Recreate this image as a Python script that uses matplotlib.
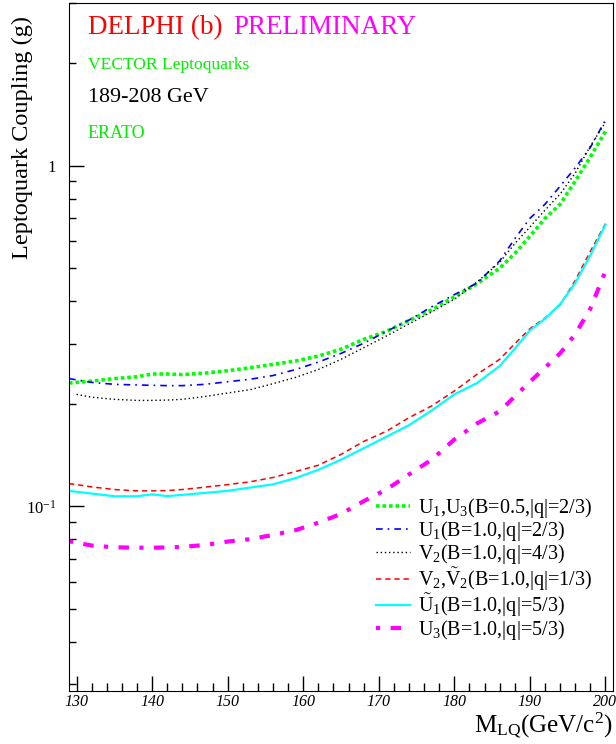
import numpy as np
import matplotlib
matplotlib.use('Agg')
import matplotlib.pyplot as plt
from matplotlib.ticker import FixedLocator, MultipleLocator, NullFormatter, FixedFormatter

plt.rcParams['font.family'] = ['Liberation Serif', 'DejaVu Serif']
plt.rcParams['mathtext.fontset'] = 'custom'
plt.rcParams['mathtext.rm'] = 'Liberation Serif'
plt.rcParams['mathtext.it'] = 'Liberation Serif:italic'

# leptoquark mass (GeV/c^2) and coupling limits
mass = [129, 130, 132, 135, 138, 140, 142, 144, 147, 150, 153, 156, 159, 162, 165,
        168, 171, 174, 177, 180, 183, 186, 188, 190, 192, 194, 196, 198, 200]

u1u3_b05 = [0.230, 0.231, 0.233, 0.237, 0.240, 0.2445, 0.2445, 0.2435, 0.246, 0.250, 0.255,
            0.261, 0.267, 0.276, 0.289, 0.309, 0.326, 0.351, 0.377, 0.412, 0.450,
            0.500, 0.552, 0.620, 0.700, 0.770, 0.900, 1.060, 1.26]
u1_b1 = [0.237, 0.235, 0.231, 0.228, 0.227, 0.2265, 0.226, 0.226, 0.228, 0.232, 0.236,
         0.242, 0.252, 0.265, 0.281, 0.301, 0.326, 0.352, 0.385, 0.418, 0.452,
         0.525, 0.610, 0.700, 0.770, 0.870, 0.985, 1.13, 1.36]
v2_q43 = [np.nan, 0.213, 0.209, 0.206, 0.2045, 0.2045, 0.205, 0.206, 0.210, 0.215, 0.220,
          0.229, 0.239, 0.252, 0.270, 0.292, 0.316, 0.343, 0.372, 0.405, 0.455,
          0.520, 0.590, 0.660, 0.740, 0.825, 0.950, 1.14, 1.34]
v2_q13 = [0.1165, 0.1158, 0.114, 0.112, 0.111, 0.111, 0.1112, 0.112, 0.1138, 0.1158, 0.118,
          0.1215, 0.1265, 0.132, 0.142, 0.155, 0.166, 0.182, 0.197, 0.218, 0.244,
          0.270, 0.300, 0.332, 0.357, 0.390, 0.460, 0.560, 0.675]
u1t_q53 = [0.111, 0.1103, 0.109, 0.107, 0.107, 0.1084, 0.1071, 0.108, 0.1095, 0.111, 0.1135,
           0.116, 0.121, 0.128, 0.137, 0.148, 0.160, 0.173, 0.191, 0.213, 0.230,
           0.258, 0.290, 0.328, 0.355, 0.392, 0.452, 0.545, 0.67]
u3_q53 = [0.079, 0.0782, 0.0767, 0.0758, 0.0756, 0.0756, 0.0757, 0.076, 0.0770, 0.0788, 0.0801,
          0.0824, 0.0851, 0.0895, 0.0950, 0.1035, 0.112, 0.124, 0.137, 0.157, 0.175,
          0.190, 0.210, 0.232, 0.255, 0.281, 0.320, 0.380, 0.490]

labels = [r'U$_1$,U$_3$(B=0.5,|q|=2/3)',
          r'U$_1$(B=1.0,|q|=2/3)',
          r'V$_2$(B=1.0,|q|=4/3)',
          r'V$_2$,$\tilde{\mathrm{V}}_2$(B=1.0,|q|=1/3)',
          r'$\tilde{\mathrm{U}}_1$(B=1.0,|q|=5/3)',
          r'U$_3$(B=1.0,|q|=5/3)']

fig = plt.figure(figsize=(6.16, 7.44), dpi=100)
ax = fig.add_axes([69/616, 53/744, 544/616, 688/744])

ax.plot(mass, u1u3_b05, color='#00ff00', lw=2.6, ls=(0, (1, 0.8)), label=labels[0])
ax.plot(mass, u1_b1, color='blue', lw=1.2, ls=(0, (4, 3, 1, 3)), label=labels[1])
ax.plot(mass, v2_q43, color='black', lw=1.0, ls=(0, (1, 2)), label=labels[2])
ax.plot(mass, v2_q13, color='red', lw=1.1, ls=(0, (3.5, 2.5)), label=labels[3])
ax.plot(mass, u1t_q53, color='cyan', lw=1.6, ls='-', label=labels[4])
ax.plot(mass, u3_q53, color='magenta', lw=3.0, ls=(0, (1, 2.5, 2.5, 2.5)), label=labels[5])

ax.set_yscale('log')
ax.set_xlim(129, 201)
ax.set_ylim(0.0287, 3.0)

ax.xaxis.set_major_locator(MultipleLocator(10))
ax.xaxis.set_minor_locator(MultipleLocator(2))
ax.yaxis.set_major_locator(FixedLocator([0.1, 1]))
ax.yaxis.set_major_formatter(FixedFormatter([r'$\mathit{10^{-1}}$', r'$\mathit{1}$']))
ax.yaxis.set_minor_formatter(NullFormatter())
ax.tick_params(which='both', direction='in', top=False, right=False)
ax.tick_params(axis='x', which='major', length=11, width=1, pad=2, labelsize=11.5)
ax.tick_params(axis='x', which='minor', length=6, width=1)
ax.tick_params(axis='y', which='major', length=11, width=1, pad=9, labelsize=12)
ax.tick_params(axis='y', which='minor', length=5, width=1)
for lab in ax.get_xticklabels():
    lab.set_fontstyle('italic')

ax.set_ylabel('Leptoquark Coupling (g)', fontsize=17.5)
ax.yaxis.set_label_coords(-0.066, 0.804)
ax.set_xlabel(r'M$_{\mathrm{LQ}}$(GeV/c$^2$)', fontsize=18, ha='right')
ax.xaxis.set_label_coords(1.0, -0.029)
ax.xaxis.label.set_va('top')

fig.text(88/616, 1 - 28/744, 'DELPHI (b)', color='red', fontsize=19.5, va='center')
fig.text(233/616, 1 - 28/744, 'PRELIMINARY', color='magenta', fontsize=19.5, va='center')
fig.text(88/616, 1 - 65/744, 'VECTOR Leptoquarks', color='#00ee00', fontsize=12.6, va='center')
fig.text(88/616, 1 - 97/744, '189-208 GeV', color='black', fontsize=15.8, va='center')
fig.text(88/616, 1 - 133/744, 'ERATO', color='#00ee00', fontsize=13, va='center')

ax.legend(loc='upper left', bbox_to_anchor=(376/616, 1 - 496/744),
          bbox_transform=fig.transFigure, frameon=False, fontsize=14.5,
          handlelength=1.7, handletextpad=0.4, labelspacing=-0.05,
          borderpad=0, borderaxespad=0)

fig.savefig('out.png', dpi=100)
